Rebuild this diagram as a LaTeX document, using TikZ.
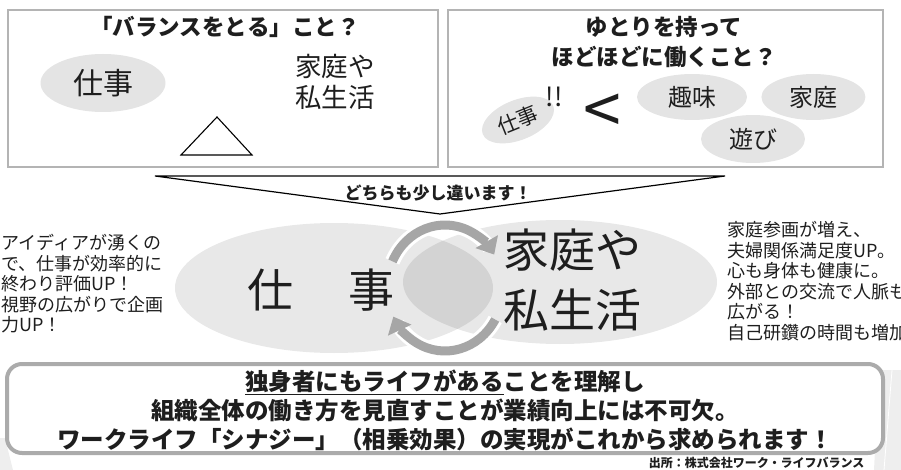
\documentclass[tikz,border=0pt]{standalone}
\usepackage{fontspec}
\setmainfont{Noto Sans CJK JP}
\usepackage{tikz}
\usetikzlibrary{arrows.meta}
\usetikzlibrary{shapes.geometric}
\usetikzlibrary{positioning}
\definecolor{framegray}{HTML}{B4B4B4}
\definecolor{boxgray}{HTML}{ABABAB}
\definecolor{blobgray}{HTML}{E4E4E4}
\definecolor{turngray}{HTML}{A6A6A6}
\definecolor{ink}{HTML}{1E1E1E}
\def \jsize #1#2{\fontsize{#1}{#2}\selectfont}

\begin{document}
\begin{tikzpicture}[x=1pt,y=-1pt]
\tikzstyle{frame}=[draw=framegray,line width=1.8pt];
\tikzstyle{blob}=[ellipse,fill=blobgray,inner sep=0pt,text=ink];
\tikzstyle{head}=[font=\bfseries\jsize{22.5}{30},text=ink,align=center];
\tikzstyle{note}=[font=\jsize{18}{20.6},text=ink,align=left,anchor=north west,inner sep=0pt];
\tikzstyle{turn}=[line width=9pt,draw=turngray,-{Triangle[length=15pt,width=25pt]}];
\useasboundingbox (0,0) rectangle (901,470);
% background strips
\fill[gray!13] (879,370) -- (901,370) -- (901,470) -- (874,470) -- cycle;
\draw[white,line width=.8pt] (892,370) -- (884,470);
\fill[gray!13] (0,438) -- (5,438) -- (13,470) -- (0,470) -- cycle;
% left top box
\draw[frame] (8,10) rectangle (438,167);
\node (1) [head] at (225,27) {「バランスをとる」こと？};
\node (2) [blob,minimum width=125pt,minimum height=58pt,font=\jsize{30}{30}] at (103,83) {仕事};
\node (3) [font=\jsize{26.5}{31},align=center,text=ink] at (335,82) {家庭や\\私生活};
\draw[line width=1.1pt] (217,117) -- (181,155) -- (252,155) -- cycle;
% right top box
\draw[frame] (448,10) rectangle (883,167);
\node (4) [head] at (664,42) {ゆとりを持って\\ほどほどに働くこと？};
\node (5) [blob,minimum width=76pt,minimum height=40pt,rotate=22,font=\jsize{21}{21}] at (518,120) {仕事};
\node (6) [font=\jsize{26}{26},text=ink] at (554,97) {!!};
\node (7) [font=\jsize{68}{68},text=ink] at (602,114) {<};
\node (8) [blob,minimum width=110pt,minimum height=46pt,font=\jsize{24}{24}] at (692,97) {趣味};
\node (9) [blob,minimum width=104pt,minimum height=46pt,font=\jsize{24}{24},right=14pt of 8] {家庭};
\node (10) [blob,minimum width=104pt,minimum height=48pt,font=\jsize{24}{24}] at (753,139) {遊び};
% banner
\draw[line width=1.2pt] (155,176) -- (725,176) -- (440,214) -- cycle;
\node (11) [font=\bfseries\jsize{17}{17},text=ink] at (438,193) {どちらも少し違います！};
% middle
\node (12) [ellipse,fill=black,fill opacity=.09,minimum width=318pt,minimum height=130pt] at (334,288) {};
\node (13) [ellipse,fill=black,fill opacity=.09,minimum width=314pt,minimum height=124pt] at (560,282) {};
\node (14) [font=\jsize{46}{46},text=ink] at (321,290) {仕\hspace{56pt}事};
\node (15) [font=\jsize{46}{60},align=center,text=ink] at (572,280) {家庭や\\私生活};
\coordinate (c) at (445,288);
\draw[white,line width=15pt] (c) ++(-155:58 and 63) arc[start angle=-155,end angle=-40,x radius=58,y radius=63];
\draw[turn] (c) ++(-155:58 and 63) arc[start angle=-155,end angle=-32,x radius=58,y radius=63];
\draw[white,line width=15pt] (c) ++(30:58 and 63) arc[start angle=30,end angle=145,x radius=58,y radius=63];
\draw[turn] (c) ++(30:58 and 63) arc[start angle=30,end angle=153,x radius=58,y radius=63];
% side notes
\node (16) [note] at (1,234) {アイディアが湧くの\\で、仕事が効率的に\\終わり評価UP！\\視野の広がりで企画\\力UP！};
\node (17) [note] at (727,221) {家庭参画が増え、\\夫婦関係満足度UP。\\心も身体も健康に。\\外部との交流で人脈も\\広がる！\\自己研鑽の時間も増加};
% bottom box
\draw[draw=boxgray,line width=4pt,rounded corners=15pt,fill=white] (7,364) rectangle (883,453);
\node (18) [font=\bfseries\jsize{23.5}{29},align=center,text=ink] at (445,410) {\underline{独身者にもライフがある}ことを理解し\\組織全体の働き方を見直すことが業績向上には不可欠。\\ワークライフ「シナジー」（相乗効果）の実現がこれから求められます！};
\node (19) [font=\bfseries\jsize{12}{12},anchor=east,text=ink] at (868,463) {出所：株式会社ワーク・ライフバランス};
\end{tikzpicture}
\end{document}
